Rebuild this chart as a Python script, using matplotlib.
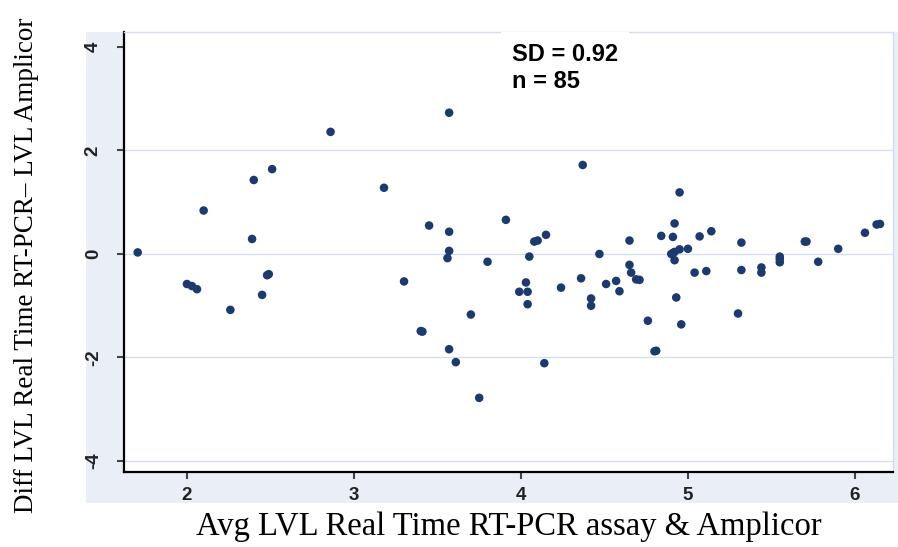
import matplotlib
matplotlib.use("Agg")
import matplotlib.pyplot as plt
from matplotlib.patches import Rectangle

# average of the two assays (x) and their difference (y)
avg_lvl = [
    1.705, 2.00, 2.03, 2.06, 2.10, 2.26, 2.39, 2.40, 2.45, 2.49, 2.48, 2.51,
    2.86, 3.18, 3.30, 3.40, 3.41, 3.45, 3.56, 3.57, 3.57, 3.57, 3.57, 3.61,
    3.70, 3.75, 3.80, 3.91, 3.99, 4.03, 4.04, 4.04, 4.05, 4.10, 4.08, 4.15,
    4.14, 4.24, 4.36, 4.37, 4.42, 4.42, 4.47, 4.51, 4.57, 4.59, 4.65, 4.65,
    4.66, 4.71, 4.69, 4.76, 4.81, 4.80, 4.84, 4.90, 4.91, 4.91, 4.92, 4.92,
    4.92, 4.93, 4.95, 4.95, 4.96, 5.00, 5.04, 5.07, 5.11, 5.14, 5.30, 5.32,
    5.32, 5.44, 5.44, 5.55, 5.55, 5.55, 5.71, 5.70, 5.78, 5.90, 6.06, 6.15,
    6.13,
]
diff_lvl = [
    0.03, -0.58, -0.62, -0.68, 0.84, -1.08, 0.29, 1.43, -0.79, -0.39, -0.41, 1.64,
    2.36, 1.28, -0.53, -1.49, -1.50, 0.55, -0.08, 0.06, 0.43, 2.73, -1.84, -2.09,
    -1.17, -2.78, -0.15, 0.66, -0.73, -0.55, -0.73, -0.97, -0.05, 0.26, 0.24, 0.37,
    -2.11, -0.65, -0.47, 1.72, -0.86, -1.00, 0.00, -0.58, -0.52, -0.72, 0.26, -0.21,
    -0.36, -0.50, -0.49, -1.29, -1.87, -1.88, 0.35, 0.00, 0.33, 0.02, 0.59, 0.04,
    -0.12, -0.84, 1.19, 0.09, -1.36, 0.10, -0.36, 0.34, -0.33, 0.44, -1.15, 0.22,
    -0.31, -0.26, -0.36, -0.05, -0.16, -0.10, 0.24, 0.24, -0.15, 0.10, 0.41, 0.58,
    0.57,
]

x_ticks = [2, 3, 4, 5, 6]
y_ticks = [-4, -2, 0, 2, 4]
grid_levels = [-4, -2, 0, 2]
stats_text = "SD = 0.92\nn = 85"

W, H = 898, 547
fig = plt.figure(figsize=(W / 100, H / 100), dpi=100)

# light graph region behind the plot (Stata style)
fig.patches.append(Rectangle((86 / W, 1 - 503 / H), (W - 86) / W, (503 - 32) / H,
                             transform=fig.transFigure, facecolor="#e9eef7",
                             edgecolor="none", zorder=-1))

ax = fig.add_axes([124 / W, 1 - 472 / H, (893 - 124) / W, (472 - 32) / H])
ax.set_zorder(1)
ax.set_facecolor("white")

for lv in grid_levels:
    ax.axhline(lv, color="#d3ddef", lw=0.9, zorder=1)

ax.scatter(avg_lvl, diff_lvl, s=38, color="#1c3a6e", edgecolors="none", zorder=3)

ax.set_xlim(1.623, 6.228)
ax.set_ylim(-4.213, 4.29)
ax.set_xticks(x_ticks)
ax.set_yticks(y_ticks)
ax.set_xticklabels([str(t) for t in x_ticks], fontsize=13.5, fontweight="bold",
                   color="#222222", family="Liberation Sans")
ax.set_yticklabels([str(t) for t in y_ticks], fontsize=13.5, fontweight="bold",
                   color="#222222", family="Liberation Sans", rotation=90, va="center")
ax.tick_params(axis="x", length=5, width=1.5, pad=6, color="#444444")
ax.tick_params(axis="y", length=5, width=1.5, pad=11, color="#444444")

for side in ("left", "bottom"):
    ax.spines[side].set_color("black")
    ax.spines[side].set_linewidth(1.6)
for side in ("top", "right"):
    ax.spines[side].set_color("#d3ddef")
    ax.spines[side].set_linewidth(1.0)

ax.set_xlabel("Avg LVL Real Time RT-PCR assay & Amplicor", family="Liberation Serif",
              fontsize=23.5)
ax.xaxis.set_label_coords(0.5, -0.09)
ax.set_ylabel("Diff LVL Real Time RT-PCR\u2013 LVL Amplicor", family="Liberation Serif",
              fontsize=19.5)
ax.yaxis.set_label_coords(-0.11, 0.47)

fig.text(512 / W, 1 - 43 / H, stats_text, fontsize=17, fontweight="bold",
         family="Liberation Sans", va="top", ha="left", linespacing=1.25,
         bbox=dict(facecolor="white", edgecolor="none", pad=8), zorder=5)

fig.savefig("out.png", dpi=100)
